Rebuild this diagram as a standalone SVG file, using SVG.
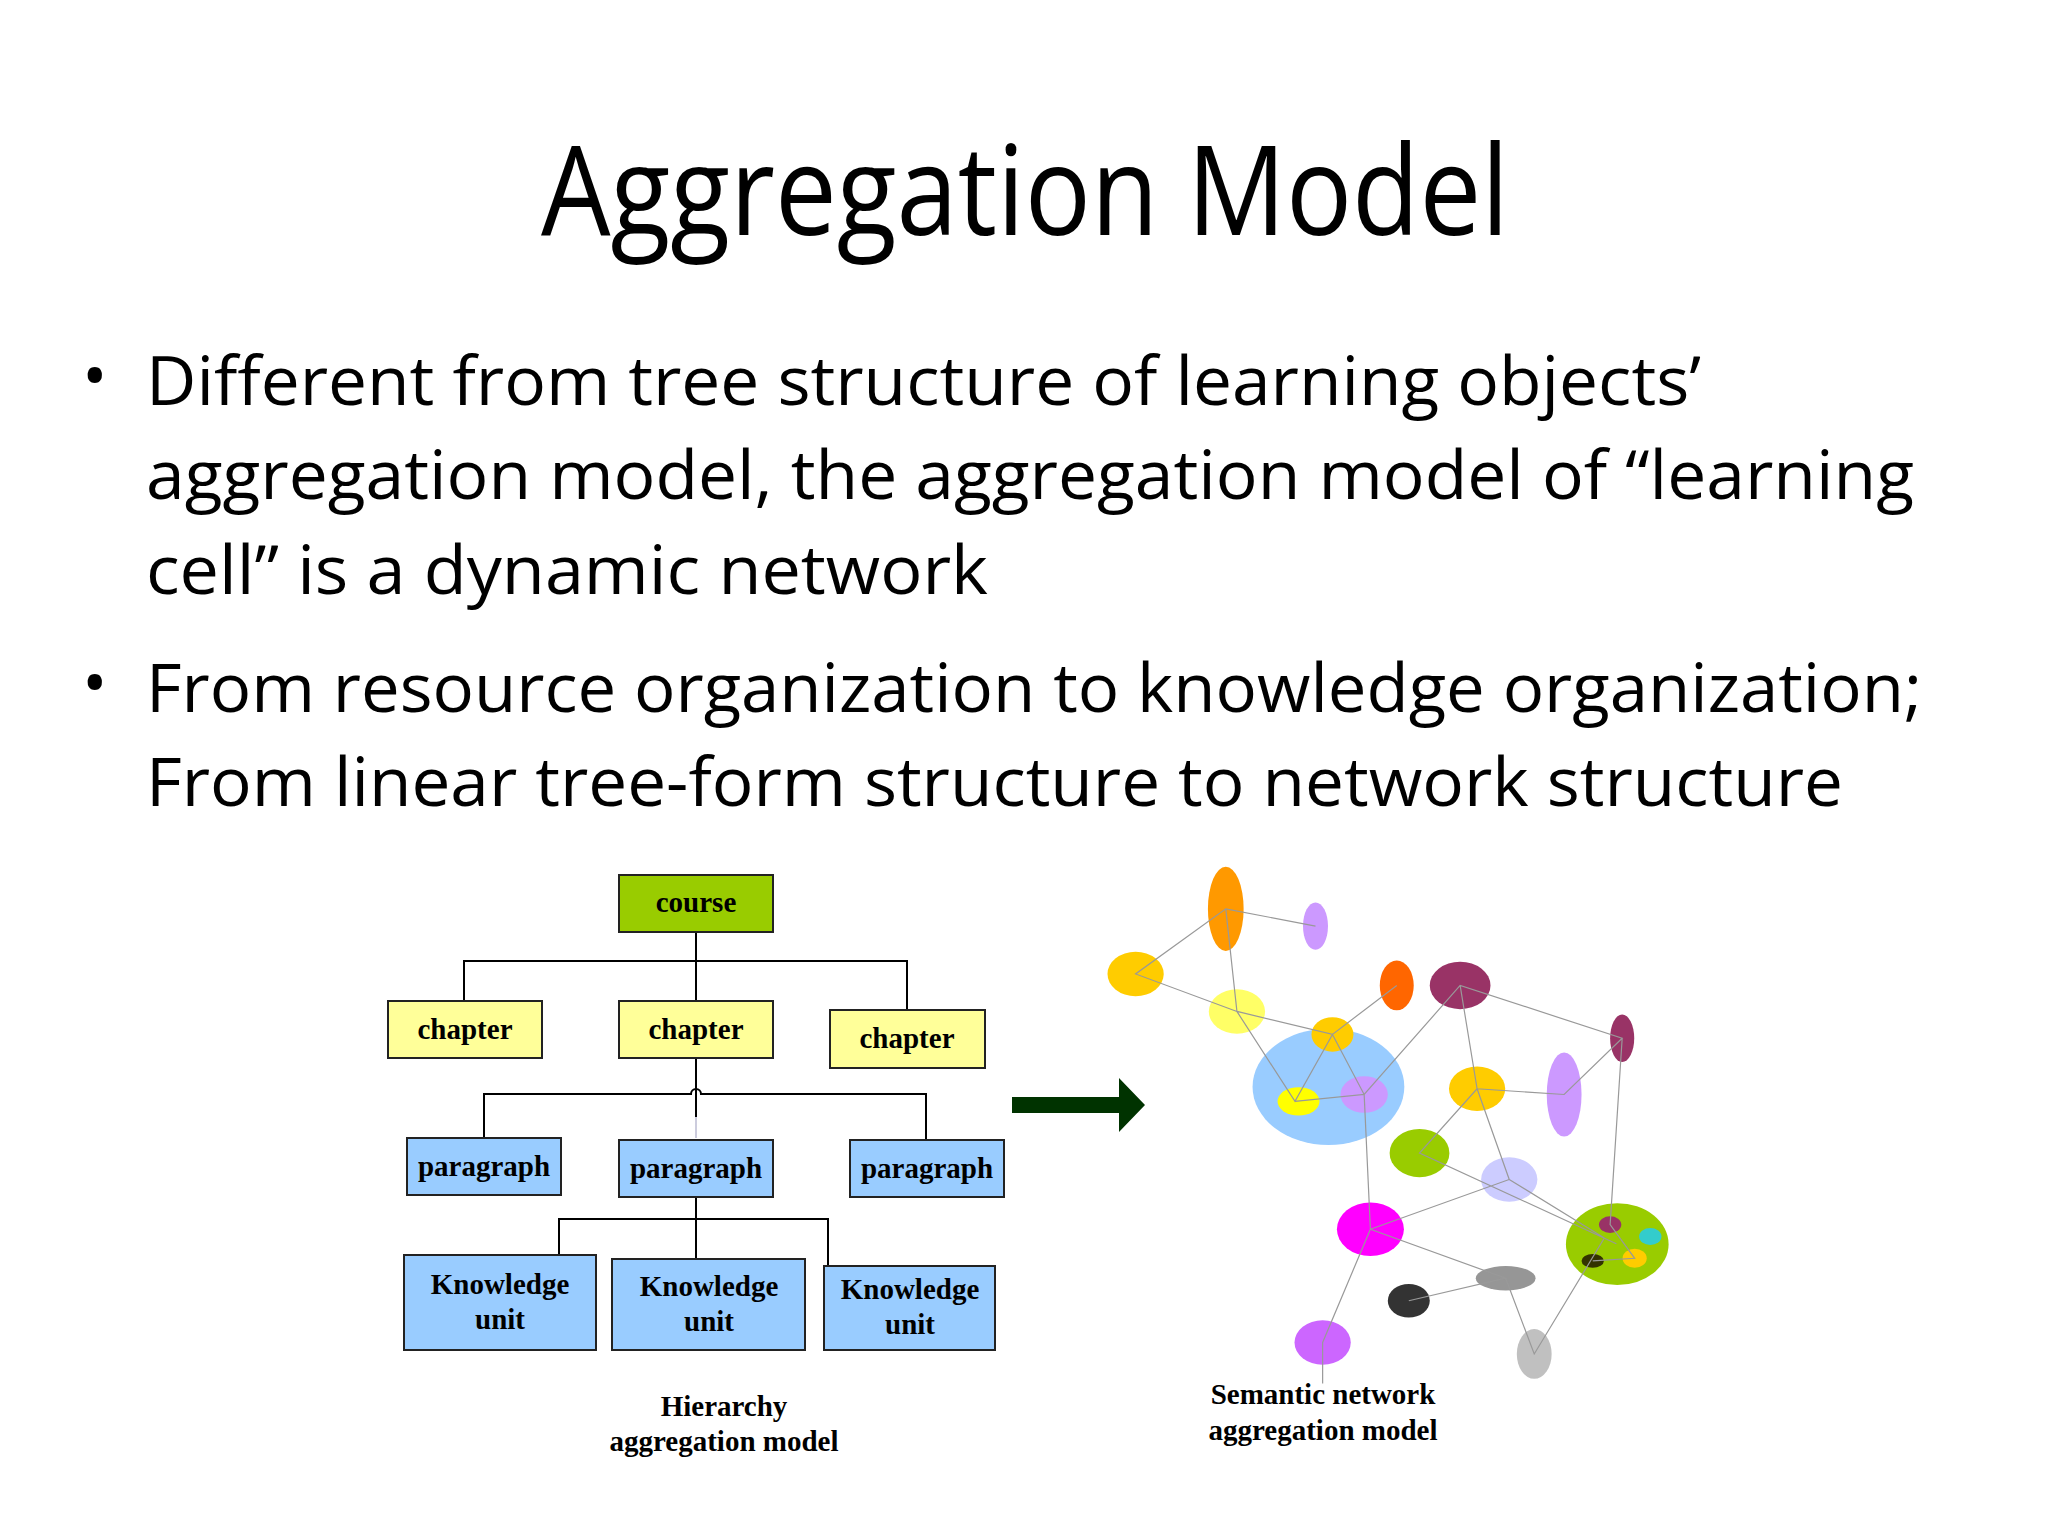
<svg xmlns="http://www.w3.org/2000/svg" width="2048" height="1536" viewBox="0 0 2048 1536">
<style>
.t{font-family:"Open Sans","Noto Sans",sans-serif;fill:#000}
.b{font-family:"Liberation Serif","Times New Roman",serif;font-weight:bold;font-size:29px;text-anchor:middle;fill:#000}
.box{stroke:#222;stroke-width:2}
.yl{fill:#ffff99}.bl{fill:#99ccff}
.c{stroke:#000;stroke-width:2;fill:none}
.n{stroke:#999;stroke-width:1.2;fill:none}
</style>
<rect width="2048" height="1536" fill="#fff"/>
<text class="t" x="1025" y="235" font-size="124" text-anchor="middle" textLength="968" lengthAdjust="spacingAndGlyphs">Aggregation Model</text>
<g class="t" font-size="68">
<text x="82" y="400">•</text>
<text x="82" y="707">•</text>
<text x="146" y="405" textLength="1555" lengthAdjust="spacingAndGlyphs">Different from tree structure of learning objects’</text>
<text x="146" y="499" textLength="1768" lengthAdjust="spacingAndGlyphs">aggregation model, the aggregation model of “learning</text>
<text x="146" y="594" textLength="842" lengthAdjust="spacingAndGlyphs">cell” is a dynamic network</text>
<text x="146" y="712" textLength="1776" lengthAdjust="spacingAndGlyphs">From resource organization to knowledge organization;</text>
<text x="146" y="806" textLength="1697" lengthAdjust="spacingAndGlyphs">From linear tree-form structure to network structure</text>
</g>
<g id="connectors">
<path class="c" d="M696 932V1001M464 1001V961H907V1028"/>
<path class="c" d="M696 1058V1117"/>
<path d="M696 1117V1138" stroke="#ccd" stroke-width="2"/>
<path class="c" d="M484 1138V1094H691A5 5 0 0 1 701 1094H926V1140"/>
<path class="c" d="M696 1197V1259M559 1255V1219H828V1266"/>
</g>
<g id="course"><rect class="box" x="619" y="875" width="154" height="57" fill="#99cc00"/><text class="b" x="696" y="912">course</text></g>
<g id="chapter1"><rect class="box yl" x="388" y="1001" width="154" height="57"/><text class="b" x="465" y="1039">chapter</text></g>
<g id="chapter2"><rect class="box yl" x="619" y="1001" width="154" height="57"/><text class="b" x="696" y="1039">chapter</text></g>
<g id="chapter3"><rect class="box yl" x="830" y="1010" width="155" height="58"/><text class="b" x="907" y="1048">chapter</text></g>
<g id="paragraph1"><rect class="box bl" x="407" y="1138" width="154" height="57"/><text class="b" x="484" y="1176">paragraph</text></g>
<g id="paragraph2"><rect class="box bl" x="619" y="1140" width="154" height="57"/><text class="b" x="696" y="1178">paragraph</text></g>
<g id="paragraph3"><rect class="box bl" x="850" y="1140" width="154" height="57"/><text class="b" x="927" y="1178">paragraph</text></g>
<g id="ku1"><rect class="box bl" x="404" y="1255" width="192" height="95"/><text class="b" x="500" y="1294">Knowledge</text><text class="b" x="500" y="1329">unit</text></g>
<g id="ku2"><rect class="box bl" x="612" y="1259" width="193" height="91"/><text class="b" x="709" y="1296">Knowledge</text><text class="b" x="709" y="1331">unit</text></g>
<g id="ku3"><rect class="box bl" x="824" y="1266" width="171" height="84"/><text class="b" x="910" y="1299">Knowledge</text><text class="b" x="910" y="1334">unit</text></g>
<text class="b" x="724" y="1416">Hierarchy</text>
<text class="b" x="724" y="1451">aggregation model</text>
<path id="arrow" d="M1012 1097H1119V1078L1145 1105L1119 1132V1113H1012Z" fill="#003300"/>
<g id="network" transform="translate(1024,840) scale(0.4464,0.3827)">
<ellipse cx="452" cy="180" rx="40" ry="110" fill="#ff9900"/>
<ellipse cx="653" cy="225" rx="28" ry="62" fill="#cc99ff"/>
<ellipse cx="250" cy="350" rx="63" ry="58" fill="#ffcc00"/>
<ellipse cx="477" cy="448" rx="63" ry="58" fill="#ffff66"/>
<ellipse cx="835" cy="380" rx="38" ry="65" fill="#ff6600"/>
<ellipse cx="977" cy="380" rx="68" ry="62" fill="#993366"/>
<ellipse cx="682" cy="645" rx="170" ry="152" fill="#99ccff"/>
<ellipse cx="691" cy="508" rx="47" ry="45" fill="#ffcc00"/>
<ellipse cx="615" cy="683" rx="47" ry="37" fill="#ffff00"/>
<ellipse cx="762" cy="665" rx="53" ry="48" fill="#cc99ff"/>
<ellipse cx="1340" cy="518" rx="27" ry="62" fill="#993366"/>
<ellipse cx="1015" cy="650" rx="63" ry="58" fill="#ffcc00"/>
<ellipse cx="1210" cy="665" rx="39" ry="110" fill="#cc99ff"/>
<ellipse cx="886" cy="818" rx="67" ry="63" fill="#99cc00"/>
<ellipse cx="1087" cy="887" rx="63" ry="58" fill="#ccccff"/>
<ellipse cx="776" cy="1017" rx="75" ry="70" fill="#ff00ff"/>
<ellipse cx="1329" cy="1056" rx="115" ry="107" fill="#99cc00"/>
<ellipse cx="1313" cy="1005" rx="25" ry="22" fill="#993366"/>
<ellipse cx="1403" cy="1036" rx="25" ry="22" fill="#33cccc"/>
<ellipse cx="1274" cy="1100" rx="25" ry="18" fill="#333300"/>
<ellipse cx="1368" cy="1093" rx="27" ry="25" fill="#ffcc00"/>
<ellipse cx="1079" cy="1145" rx="67" ry="32" fill="#969696"/>
<ellipse cx="862" cy="1204" rx="47" ry="44" fill="#333333"/>
<ellipse cx="669" cy="1313" rx="63" ry="58" fill="#cc66ff"/>
<ellipse cx="1143" cy="1343" rx="39" ry="65" fill="#c0c0c0"/>
<path class="n" vector-effect="non-scaling-stroke" d="M653 225L452 180L250 350L477 448L691 508L835 380M452 180L477 448L607 683L691 508L762 665L977 380L1340 518L1210 665L1015 650L977 380M607 683L762 665L776 1017L1087 887L1015 650L886 818L1327 1055M1087 887L1300 1040M1340 518L1313 1005L1368 1093L1274 1100M776 1017L669 1313L669 1420M776 1017L1079 1145L862 1204M1079 1145L1143 1343L1300 1040"/>
</g>
<text class="b" x="1323" y="1404">Semantic network</text>
<text class="b" x="1323" y="1440">aggregation model</text>
</svg>
